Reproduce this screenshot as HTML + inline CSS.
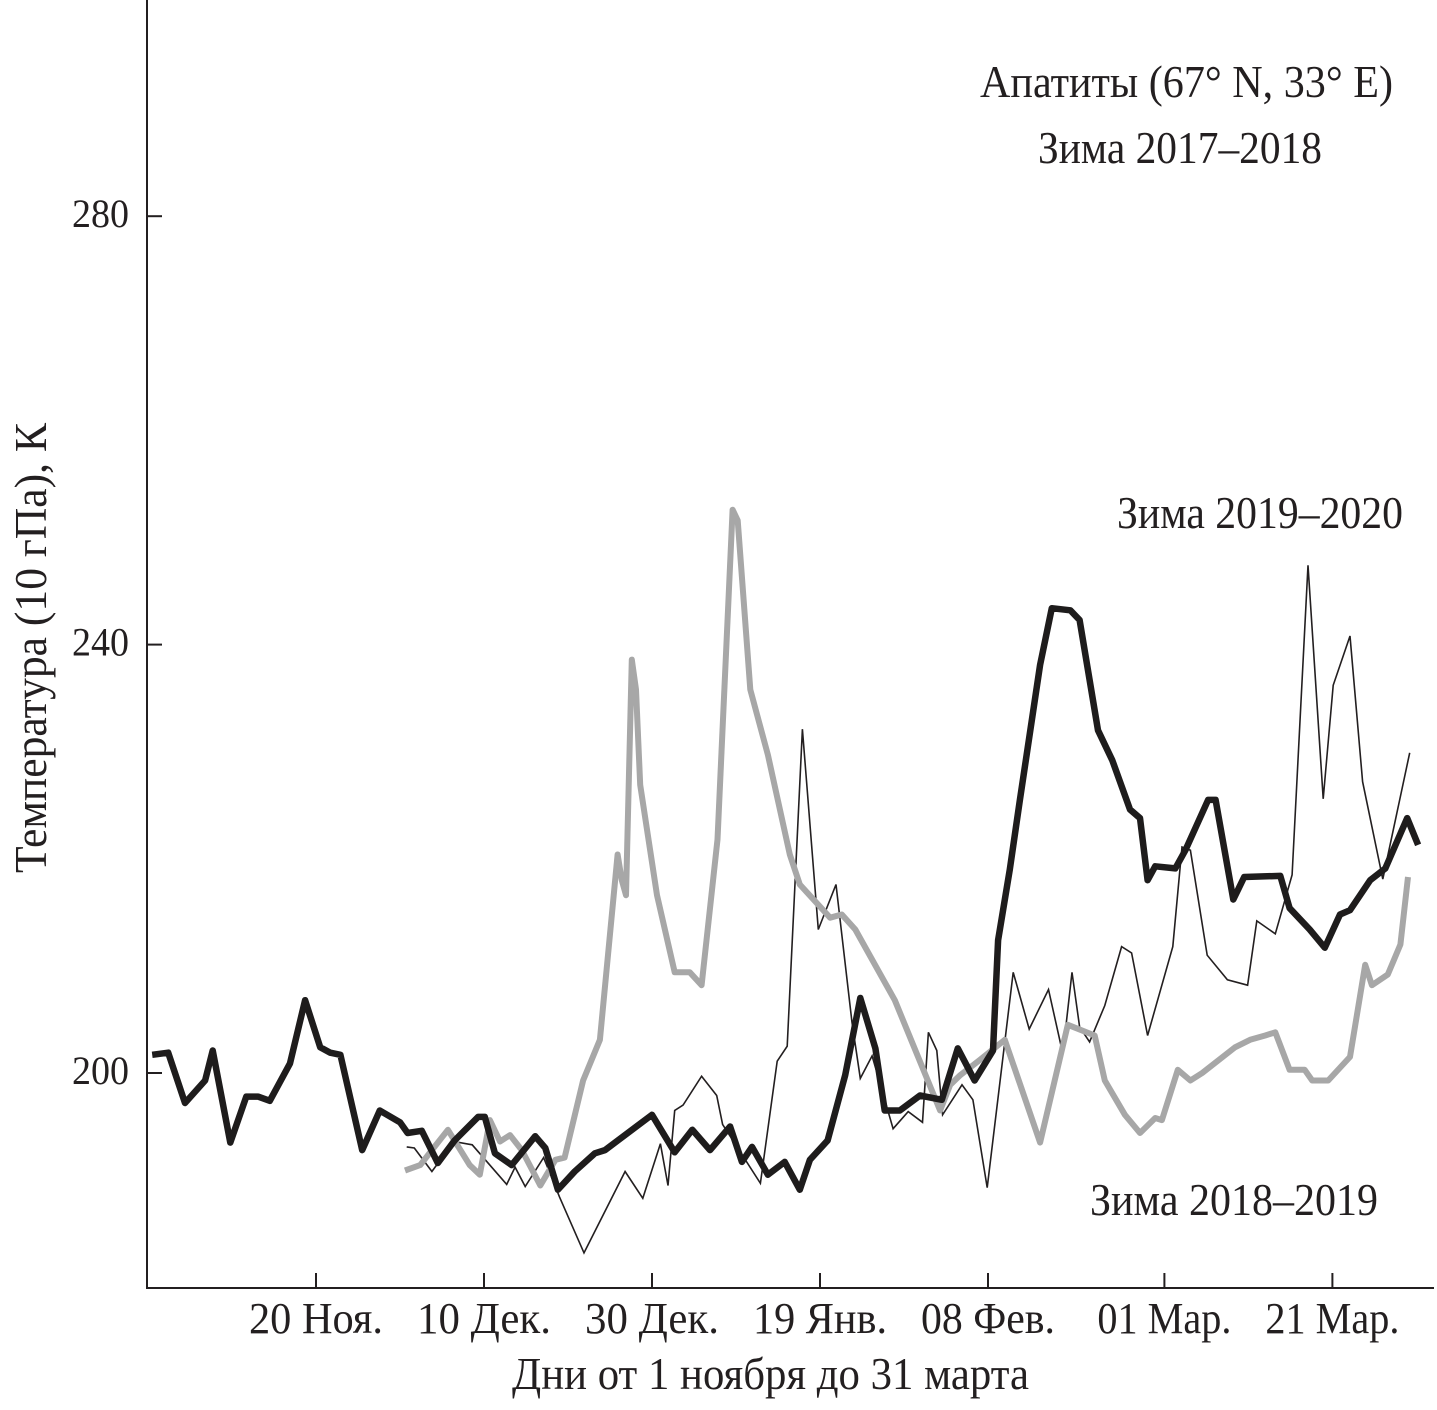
<!DOCTYPE html>
<html><head><meta charset="utf-8"><style>
html,body{margin:0;padding:0;background:#fff}
svg text{font-family:"Liberation Serif",serif;fill:#231f20}
</style></head><body>
<svg id="chart" width="1437" height="1405" viewBox="0 0 1437 1405" xmlns="http://www.w3.org/2000/svg">
<g id="axes"></g>
<g id="series"></g>
<text x="980" y="97" font-size="46" textLength="413" lengthAdjust="spacingAndGlyphs">Апатиты (67° N, 33° E)</text>
<text x="1038" y="163" font-size="46" textLength="284" lengthAdjust="spacingAndGlyphs">Зима 2017–2018</text>
<text x="1117" y="528" font-size="46" textLength="286" lengthAdjust="spacingAndGlyphs">Зима 2019–2020</text>
<text x="1090" y="1215" font-size="46" textLength="288" lengthAdjust="spacingAndGlyphs">Зима 2018–2019</text>
<text x="512" y="1389" font-size="46" textLength="517" lengthAdjust="spacingAndGlyphs">Дни от 1 ноября до 31 марта</text>
<text x="0" y="0" font-size="46" text-anchor="middle" textLength="450" lengthAdjust="spacingAndGlyphs" transform="translate(46,648) rotate(-90)">Температура (10 гПа), К</text>
</svg>
<script>
const yTicks=[200,240,280];
const xTickDays=[19,39,59,79,99,120,140];
const xTickLabels=["20 Ноя.","10 Дек.","30 Дек.","19 Янв.","08 Фев.","01 Мар.","21 Мар."];
const days1920=[-0.5,1.4,3.4,5.8,6.7,8.8,10.7,12.1,13.5,15.9,17.7,19.5,20.7,21.9,24.5,26.6,29.0,29.9,31.6,33.5,35.5,38.3,39.1,40.3,42.3,45.1,46.3,47.8,49.8,52.2,53.4,59.0,61.7,63.8,65.9,68.3,69.7,70.9,72.8,74.8,76.6,77.8,79.9,82.0,83.8,85.6,86.7,88.5,90.9,93.5,95.4,97.4,99.6,100.2,101.6,102.8,105.2,106.6,108.8,109.9,112.1,113.8,115.9,117.1,118.0,118.9,121.3,122.5,125.2,126.1,128.2,129.5,133.8,134.9,137.3,139.1,140.9,142.1,144.5,146.3,148.9,150.2];
const temps1920=[201.7,201.9,197.2,199.3,202.1,193.5,197.8,197.8,197.4,200.9,206.8,202.4,201.9,201.7,192.8,196.5,195.4,194.4,194.6,191.6,193.7,195.9,195.9,192.5,191.4,194.1,193.0,189.1,190.8,192.5,192.8,196.1,192.6,194.7,192.8,195.0,191.7,193.1,190.5,191.7,189.1,191.9,193.7,199.8,207.0,202.3,196.5,196.5,197.9,197.5,202.3,199.3,202.1,212.4,219.0,225.5,238.1,243.4,243.2,242.3,232.0,229.2,224.6,223.8,218.0,219.3,219.1,220.8,225.5,225.5,216.2,218.3,218.4,215.4,213.4,211.7,214.8,215.2,218.0,219.1,223.8,221.3];
const days1819=[29.6,31.4,32.8,34.7,37.3,38.5,39.7,40.9,42.1,43.5,45.7,47.5,48.6,50.8,52.8,54.9,55.4,55.9,56.6,57.1,57.6,59.6,61.7,63.5,64.9,66.8,68.6,69.2,70.7,72.8,75.4,76.6,80.2,81.6,83.2,87.9,93.3,94.5,95.7,98.0,101.0,105.2,108.5,111.7,112.9,115.3,117.1,118.9,119.7,121.6,123.1,124.5,128.4,130.2,132.0,133.2,134.9,136.7,137.6,139.5,142.1,143.9,144.7,146.6,148.1,149.0];
const temps1819=[190.9,191.4,192.8,194.7,191.4,190.5,195.6,193.6,194.2,192.8,189.5,191.9,192.1,199.3,203.1,220.4,218.0,216.6,238.6,235.8,226.9,216.6,209.4,209.4,208.2,221.8,252.6,251.6,235.8,229.7,220.4,217.6,214.5,214.8,213.4,206.8,196.5,198.9,199.8,201.2,203.1,193.5,204.5,203.5,199.3,196.1,194.4,195.8,195.6,200.3,199.3,200.0,202.4,203.1,203.5,203.8,200.3,200.3,199.3,199.3,201.5,210.1,208.2,209.2,212.0,218.3];
const days1718=[29.8,30.7,32.8,35.4,37.6,41.7,42.7,43.9,46.1,48.0,50.9,55.8,57.9,60.0,60.9,61.7,62.7,64.9,66.7,67.4,71.9,73.9,75.1,76.9,78.8,80.9,82.8,83.8,85.2,87.7,89.5,91.2,91.9,92.9,93.6,95.9,97.2,98.9,102.0,103.9,106.2,107.9,109.0,109.9,111.1,112.9,114.9,116.1,118.0,121.0,122.1,123.1,125.1,127.5,129.9,131.0,133.2,135.2,137.1,138.9,140.1,142.1,143.6,146.0,149.2];
const temps1718=[193.1,193.0,190.8,193.6,193.3,189.6,191.2,189.4,192.1,188.4,183.2,190.8,188.3,193.4,189.5,196.5,197.0,199.7,197.9,195.2,189.7,201.1,202.5,232.1,213.4,217.6,204.8,199.5,201.6,194.8,196.4,195.4,203.8,202.1,196.1,198.9,197.5,189.3,209.4,204.1,207.8,201.8,209.4,204.3,202.9,206.3,211.8,211.2,203.5,211.8,221.1,220.8,211.0,208.7,208.2,214.2,213.0,218.5,247.4,225.6,236.2,240.8,227.2,218.1,229.9];

const X0=156.4, XS=8.4, Y200=1073, YS=10.71;
const xs=d=>X0+d*XS;
const ys=v=>Y200-(v-200)*YS;
const NS="http://www.w3.org/2000/svg";
const axes=document.getElementById('axes');
const ser=document.getElementById('series');
function mk(tag,attrs,parent){const e=document.createElementNS(NS,tag);for(const k in attrs)e.setAttribute(k,attrs[k]);parent.appendChild(e);return e;}
let yl=mk('line',{x1:147,y1:0,x2:147,y2:1288,stroke:'#231f20','stroke-width':2},axes);


let xl=mk('line',{x1:146,y1:1288,x2:1434,y2:1288,stroke:'#231f20','stroke-width':2},axes);


yTicks.forEach(v=>{
  const t=mk('line',{x1:147,y1:ys(v),x2:162,y2:ys(v),stroke:'#231f20','stroke-width':2},axes);
  
  
  const l=mk('text',{x:72,y:ys(v)+11,'font-size':40,textLength:57,lengthAdjust:'spacingAndGlyphs'},axes);
  l.textContent=v;
  
  
});
xTickDays.forEach((d,i)=>{
  const t=mk('line',{x1:xs(d),y1:1288,x2:xs(d),y2:1273,stroke:'#231f20','stroke-width':2},axes);
  
  
  const l=mk('text',{x:xs(d),y:1333,'font-size':44,'text-anchor':'middle',textLength:134,lengthAdjust:'spacingAndGlyphs'},axes);
  l.textContent=xTickLabels[i];
  
  
});
function path(days,vals){return days.map((d,i)=>(i?'L':'M')+xs(d).toFixed(1)+','+ys(vals[i]).toFixed(1)).join(' ');}
const p1=mk('path',{d:path(days1718,temps1718),fill:'none',stroke:'#231f20','stroke-width':1.6,'stroke-linejoin':'miter'},ser);


const p2=mk('path',{d:path(days1819,temps1819),fill:'none',stroke:'#a7a7a7','stroke-width':6,'stroke-linejoin':'round'},ser);


const p3=mk('path',{d:path(days1920,temps1920),fill:'none',stroke:'#1e1c1c','stroke-width':6.5,'stroke-linejoin':'round'},ser);


</script>
</body></html>
